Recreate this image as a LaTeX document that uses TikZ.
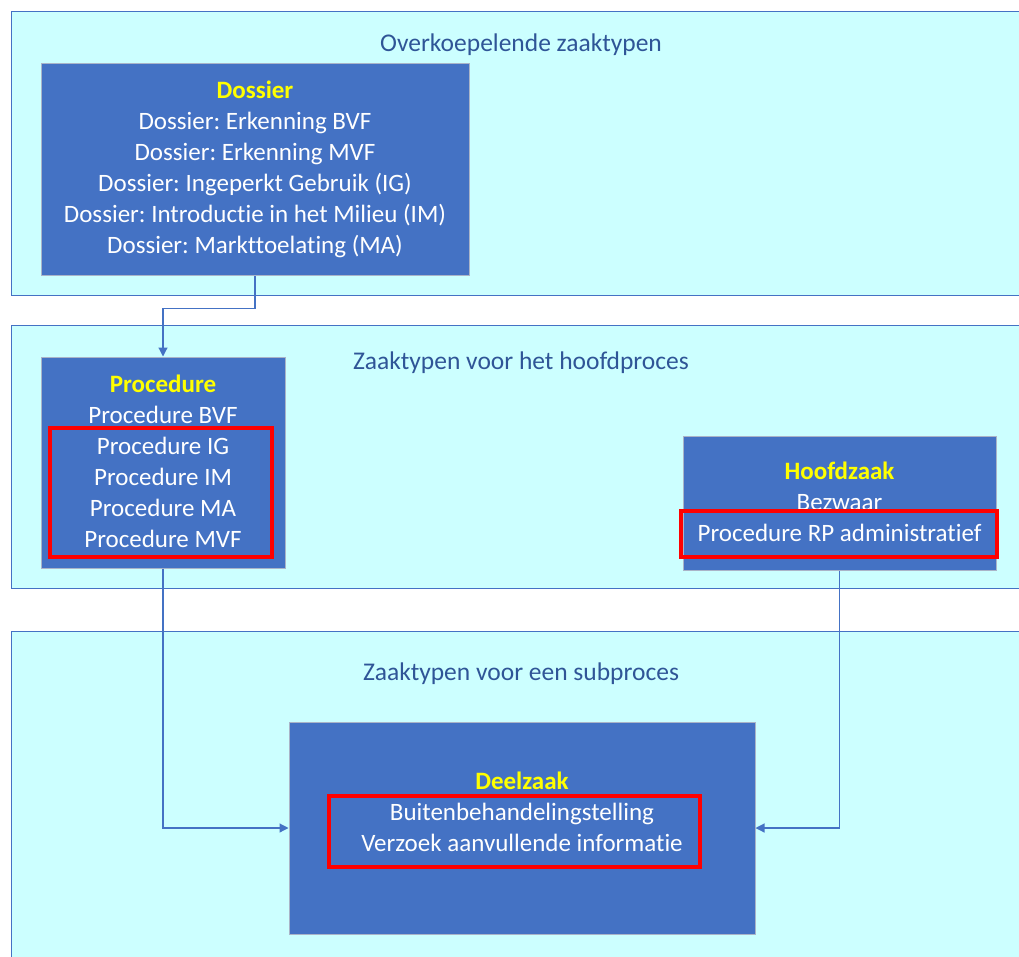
\documentclass[tikz,border=0pt]{standalone}
\usepackage{fontspec}
\setmainfont{Carlito}[Ligatures=NoCommon]
\usetikzlibrary{arrows.meta}
\definecolor{panelfill}{RGB}{204,255,255}
\definecolor{panelline}{RGB}{68,114,196}
\definecolor{boxfill}{RGB}{68,114,196}
\definecolor{boxline}{RGB}{170,180,200}
\definecolor{titleblue}{RGB}{47,85,151}
\definecolor{hdyellow}{RGB}{255,255,0}
\tikzset{
  panel/.style={draw=panelline, fill=panelfill, line width=1pt},
  zbox/.style={draw=boxline, fill=boxfill, line width=1pt, inner sep=0pt},
  ztext/.style={text=white, align=center, font=\fontsize{25}{31}\selectfont, inner sep=0pt},
  ptitle/.style={text=titleblue, font=\fontsize{25.5}{30}\selectfont, inner sep=0pt},
  redbox/.style={draw=red, line width=4pt, inner sep=0pt},
  conn/.style={draw=panelline, line width=1.2pt, -{Triangle[width=9pt,length=9pt]}},
}
\newcommand{\hd}[1]{\textcolor{hdyellow}{\textbf{#1}}}
\frenchspacing
\begin{document}
\begin{tikzpicture}[x=1pt,y=-1pt]
\useasboundingbox (0,0) rectangle (1019,957);
\clip (0,0) rectangle (1019,957);
% panels
\draw[panel] (11,12) rectangle (1030,296);
\draw[panel] (11,325) rectangle (1030,588);
\draw[panel] (11,631) rectangle (1030,980);
\node[ptitle] (t1) at (521,45) {Overkoepelende zaaktypen};
\node[ptitle] (t2) at (521,363) {Zaaktypen voor het hoofdproces};
\node[ptitle] (t3) at (521,674) {Zaaktypen voor een subproces};
% boxes
\node[zbox, minimum width=428pt, minimum height=212pt] (dossier) at (255,170) {};
\node[ztext] (dossiertxt) at (255,169) {\hd{Dossier}\\Dossier: Erkenning BVF\\Dossier: Erkenning MVF\\Dossier: Ingeperkt Gebruik (IG)\\Dossier: Introductie in het Milieu (IM)\\Dossier: Markttoelating (MA)};
\node[zbox, minimum width=244pt, minimum height=211pt] (procedure) at (163,462.5) {};
\node[ztext] (proctxt) at (163,461.5) {\hd{Procedure}\\Procedure BVF\\Procedure IG\\Procedure IM\\Procedure MA\\Procedure MVF};
\node[zbox, minimum width=313pt, minimum height=134pt] (hoofd) at (839.5,503) {};
\node[ztext] (hoofdtxt) at (839.5,502) {\hd{Hoofdzaak}\\Bezwaar\\Procedure RP administratief};
\node[zbox, minimum width=466pt, minimum height=212pt] (deel) at (522,828) {};
\node[ztext] (deeltxt) at (522,812) {\hd{Deelzaak}\\Buitenbehandelingstelling\\Verzoek aanvullende informatie};
% red highlight boxes
\node[redbox, minimum width=222pt, minimum height=129pt] (redproc) at (161,492.5) {};
\node[redbox, minimum width=316pt, minimum height=46pt] (redhoofd) at (839,534) {};
\node[redbox, minimum width=371pt, minimum height=71pt] (reddeel) at (514.5,831.5) {};
% connectors
\draw[conn] (dossier.south) -- ++(0,32) -| (procedure.north);
\draw[conn] (procedure.south) |- (deel.west);
\draw[conn] (hoofd.south) |- (deel.east);
\end{tikzpicture}
\end{document}
